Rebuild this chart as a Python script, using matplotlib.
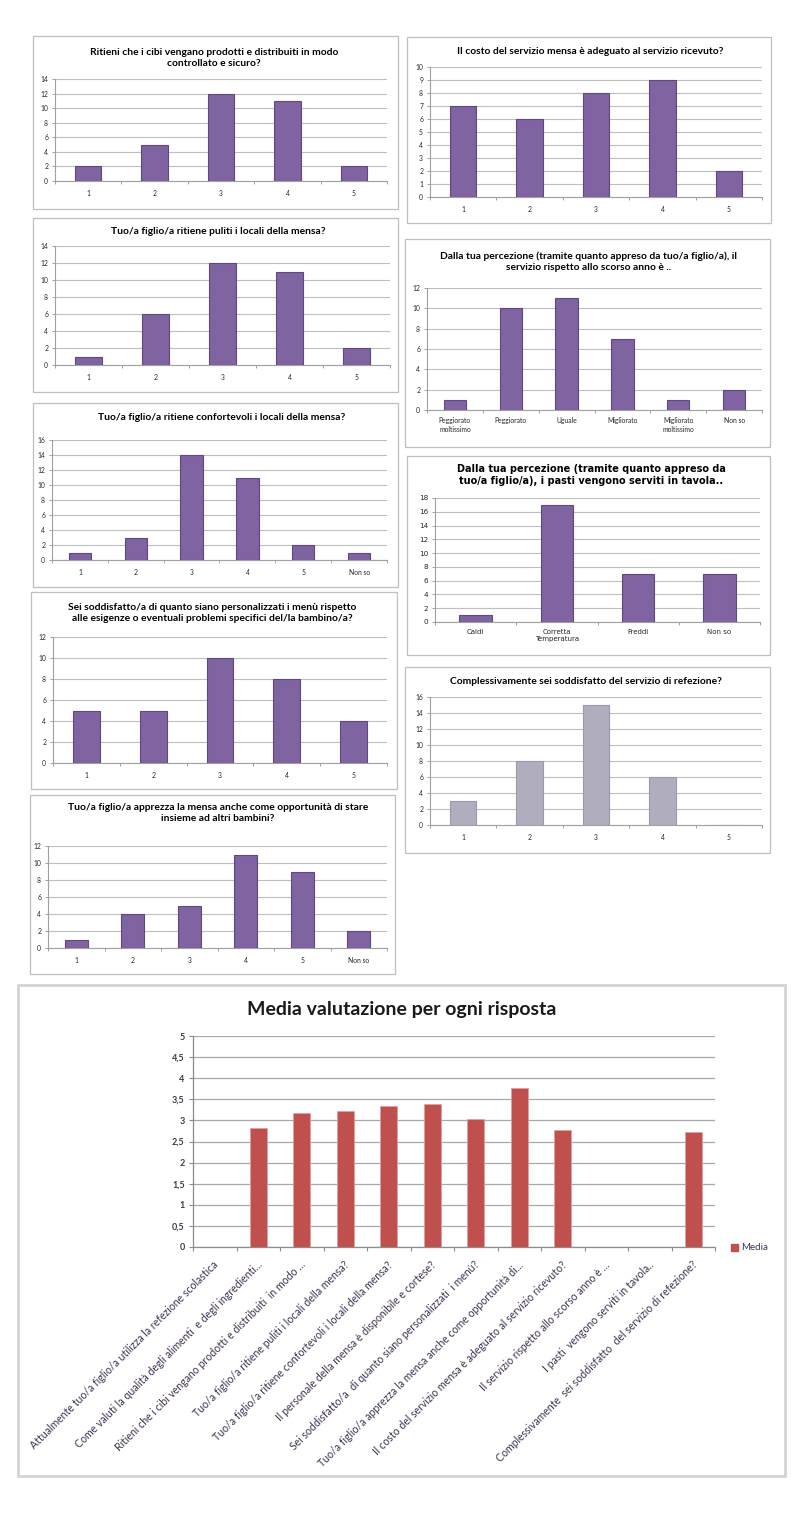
import matplotlib
matplotlib.use('Agg')
import matplotlib.pyplot as plt
from matplotlib.patches import Rectangle, Patch
import matplotlib.transforms as mtransforms
import numpy as np

plt.rcParams['font.family'] = ['Lato', 'DejaVu Sans']

# ---------------- DATA ----------------
cibi_title = "Ritieni che i cibi vengano prodotti e distribuiti in modo\ncontrollato e sicuro?"
cibi_labels = ["1", "2", "3", "4", "5"]
cibi_values = [2, 5, 12, 11, 2]

puliti_title = "Tuo/a figlio/a ritiene puliti i locali della mensa?"
puliti_labels = ["1", "2", "3", "4", "5"]
puliti_values = [1, 6, 12, 11, 2]

confort_title = "Tuo/a figlio/a ritiene confortevoli i locali della mensa?"
confort_labels = ["1", "2", "3", "4", "5", "Non so"]
confort_values = [1, 3, 14, 11, 2, 1]

menu_title = "Sei soddisfatto/a di quanto siano personalizzati i menù rispetto\nalle esigenze o eventuali problemi specifici del/la bambino/a?"
menu_labels = ["1", "2", "3", "4", "5"]
menu_values = [5, 5, 10, 8, 4]

insieme_title = "Tuo/a figlio/a apprezza la mensa anche come opportunità di stare\ninsieme ad altri bambini?"
insieme_labels = ["1", "2", "3", "4", "5", "Non so"]
insieme_values = [1, 4, 5, 11, 9, 2]

costo_title = "Il costo del servizio mensa è adeguato al servizio ricevuto?"
costo_labels = ["1", "2", "3", "4", "5"]
costo_values = [7, 6, 8, 9, 2]

anno_title = "Dalla tua percezione (tramite quanto appreso da tuo/a figlio/a), il\nservizio rispetto allo scorso anno è .."
anno_labels = ["Peggiorato\nmoltissimo", "Peggiorato", "Uguale", "Migliorato", "Migliorato\nmoltissimo", "Non so"]
anno_values = [1, 10, 11, 7, 1, 2]

pasti_title = "Dalla tua percezione (tramite quanto appreso da\ntuo/a figlio/a), i pasti vengono serviti in tavola.."
pasti_labels = ["Caldi", "Corretta\nTemperatura", "Freddi", "Non so"]
pasti_values = [1, 17, 7, 7]

compl_title = "Complessivamente sei soddisfatto del servizio di refezione?"
compl_labels = ["1", "2", "3", "4", "5"]
compl_values = [3, 8, 15, 6, 0]

media_title = "Media valutazione per ogni risposta"
media_labels = [
    "Attualmente tuo/a figlio/a utilizza la refezione scolastica",
    "Come valuti la qualità degli alimenti  e degli ingredienti...",
    "Ritieni che i cibi vengano prodotti e distribuiti  in modo ...",
    "Tuo/a figlio/a ritiene puliti i locali della mensa?",
    "Tuo/a figlio/a ritiene confortevoli i locali della mensa?",
    "Il personale della mensa è disponibile e cortese?",
    "Sei soddisfatto/a  di quanto siano personalizzati  i menù?",
    "Tuo/a figlio/a apprezza la mensa anche come opportunità di...",
    "Il costo del servizio mensa è adeguato al servizio ricevuto?",
    "Il servizio rispetto allo scorso anno è ...",
    "I pasti  vengono serviti in tavola..",
    "Complessivamente  sei soddisfatto  del servizio di refezione?",
]
media_values = [np.nan, 2.83, 3.18, 3.22, 3.33, 3.40, 3.04, 3.77, 2.78, np.nan, np.nan, 2.73]
media_series = "Media"

# ---------------- LAYOUT HELPERS ----------------
W, H = 800, 1525
fig = plt.figure(figsize=(8, 15.25), dpi=100)
fig.patch.set_facecolor('white')


def fx(x):
    return x / W


def fy(y):
    return 1 - y / H


def frame(x0, y0, x1, y1, color='#BFBFBF', lw=0.9):
    fig.patches.append(Rectangle((fx(x0), fy(y1)), (x1 - x0) / W, (y1 - y0) / H,
                                 transform=fig.transFigure, fill=False,
                                 edgecolor=color, linewidth=lw))


def make_ax(x0, y0, x1, y1):
    return fig.add_axes([fx(x0), fy(y1), (x1 - x0) / W, (y1 - y0) / H])


PURPLE = '#8064A2'
PURPLE_EDGE = '#5D4880'
GREY_BAR = '#B0AEBE'
GRID = '#BEBEBE'


def small_chart(box_px, plot_px, title, title_xy, labels, values, ymax, ystep,
                color=PURPLE, edge=PURPLE_EDGE, title_font=None, title_fs=7.4,
                tick_fs=4.9, xtick_fs=4.9, label_pad=6.5, tick_font=None):
    frame(*box_px)
    ax = make_ax(*plot_px)
    x = np.arange(len(values))
    ax.bar(x, values, width=0.4, color=color, edgecolor=edge, linewidth=0.8, zorder=3)
    ax.set_xlim(-0.5, len(values) - 0.5)
    ax.set_ylim(0, ymax)
    ax.set_yticks(np.arange(0, ymax + 0.01, ystep))
    ax.yaxis.grid(True, color=GRID, linewidth=0.8, zorder=0)
    ax.set_axisbelow(True)
    for s in ['top', 'right']:
        ax.spines[s].set_visible(False)
    for s in ['left', 'bottom']:
        ax.spines[s].set_color('#A0A0A0')
        ax.spines[s].set_linewidth(0.8)
    ax.set_xticks(x)
    tkw = {}
    if tick_font:
        tkw['family'] = tick_font
    ax.set_xticklabels(labels, fontsize=xtick_fs, color='#262626', linespacing=1.3, **tkw)
    ax.set_xticks(np.arange(len(values) + 1) - 0.5, minor=True)
    ax.tick_params(axis='x', which='major', length=0, pad=label_pad)
    ax.tick_params(axis='x', which='minor', length=2.5, color='#A0A0A0', width=0.7)
    ax.tick_params(axis='y', length=2.5, color='#A0A0A0', width=0.7, pad=2.5,
                   labelsize=tick_fs, labelcolor='#262626')
    if tick_font:
        for t in ax.get_yticklabels():
            t.set_family(tick_font)
    tf = {'fontweight': 'bold', 'fontsize': title_fs, 'color': 'black'}
    if title_font:
        tf['family'] = title_font
    fig.text(fx(title_xy[0]), fy(title_xy[1]), title, ha='center', va='center',
             linespacing=1.35, **tf)
    return ax


# Left column
small_chart((33, 36, 398, 209), (55, 79, 387, 181), cibi_title, (214, 58),
            cibi_labels, cibi_values, 14, 2)
small_chart((33, 218, 398, 392), (55, 246, 390, 365), puliti_title, (218, 232),
            puliti_labels, puliti_values, 14, 2)
small_chart((33, 403, 398, 587), (52, 440, 387, 560), confort_title, (222, 417),
            confort_labels, confort_values, 16, 2)
small_chart((31, 592, 397, 789), (53, 637, 387, 763), menu_title, (212, 613),
            menu_labels, menu_values, 12, 2)
small_chart((30, 795, 395, 974), (48, 846, 387, 948), insieme_title, (218, 813),
            insieme_labels, insieme_values, 12, 2)

# Right column
small_chart((407, 37, 771, 223), (430, 67, 762, 197), costo_title, (590, 52),
            costo_labels, costo_values, 10, 1)
small_chart((405, 239, 770, 447), (427, 288, 762, 410), anno_title, (589, 262),
            anno_labels, anno_values, 12, 2, label_pad=5)
small_chart((407, 456, 770, 655), (435, 498, 760, 622), pasti_title, (591, 475),
            pasti_labels, pasti_values, 18, 2, title_font='DejaVu Sans', title_fs=7.0,
            tick_fs=5.2, xtick_fs=5.0, label_pad=5, tick_font='DejaVu Sans')
small_chart((405, 667, 770, 853), (430, 697, 762, 825), compl_title, (586, 682),
            compl_labels, compl_values, 16, 2, color=GREY_BAR, edge='#9A98AC')

# ---------------- BOTTOM CHART ----------------
frame(18, 985, 785, 1476, color='#D4D4D4', lw=2.0)
ax = make_ax(193, 1036, 715, 1247)
xb = np.arange(len(media_values))
ax.bar(xb, media_values, width=0.4, color='#C0504D', edgecolor='#E0A09E',
       linewidth=0.6, zorder=3, label=media_series)
ax.set_xlim(-0.5, len(media_values) - 0.5)
ax.set_ylim(0, 5)
yt = np.arange(0, 5.01, 0.5)
ax.set_yticks(yt)
ax.set_yticklabels([('%g' % v).replace('.', ',') for v in yt], fontsize=6.5,
                   color='#3B3B4F', fontweight='bold')
ax.yaxis.grid(True, color='#A8A8A8', linewidth=0.9, zorder=0)
ax.set_axisbelow(True)
for s in ['top', 'right']:
    ax.spines[s].set_visible(False)
for s in ['left', 'bottom']:
    ax.spines[s].set_color('#8C8C8C')
    ax.spines[s].set_linewidth(0.9)
ax.set_xticks([])
ax.set_xticks(np.arange(len(media_values) + 1) - 0.5, minor=True)
ax.tick_params(axis='x', which='minor', length=3, color='#8C8C8C', width=0.8)
ax.tick_params(axis='y', length=3, color='#8C8C8C', width=0.8, pad=3)

lab_tr = mtransforms.offset_copy(ax.get_xaxis_transform(), fig=fig, x=2, y=-16, units='dots')
for i, lab in enumerate(media_labels):
    ax.text(i, 0, lab, transform=lab_tr, rotation=45, rotation_mode='anchor',
            ha='right', va='center', fontsize=7.6, color='#3F3151')

fig.text(fx(402), fy(1010), media_title, ha='center', va='center',
         fontsize=14, fontweight='bold', color='#1A1A1A')

ax.legend(handles=[Patch(facecolor='#C0504D', edgecolor='#C0504D')], labels=[media_series],
          loc='center left', bbox_to_anchor=(fx(731), fy(1248)), bbox_transform=fig.transFigure,
          frameon=False, fontsize=7, handlelength=0.7, handleheight=0.7,
          handletextpad=0.3, labelcolor='#3F3151', borderaxespad=0, borderpad=0)

fig.savefig('out.png', dpi=100, facecolor='white')
